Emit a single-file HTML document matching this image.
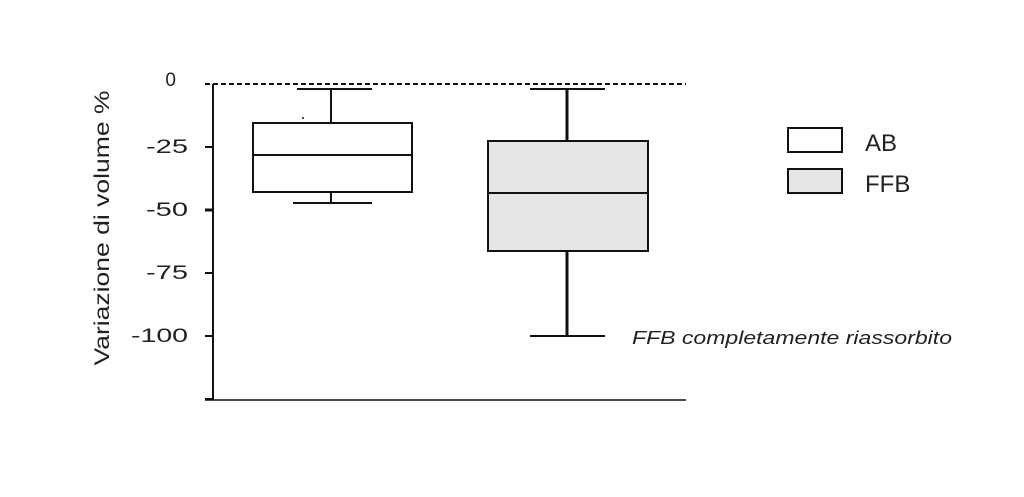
<!DOCTYPE html>
<html><head><style>body{margin:0;background:#fff}</style></head><body>
<svg width="1024" height="492" viewBox="0 0 1024 492" xmlns="http://www.w3.org/2000/svg" font-family="Liberation Sans, sans-serif">
<rect width="1024" height="492" fill="#fff"/>
<g stroke="#111" stroke-width="2" fill="none">
<line x1="205" y1="84" x2="686" y2="84" stroke-dasharray="5,3"/>
<line x1="213" y1="84" x2="213" y2="400"/>
<line x1="205" y1="400" x2="686" y2="400" stroke-width="1.5"/>
<line x1="205" y1="147" x2="213" y2="147"/>
<line x1="205" y1="210" x2="213" y2="210" stroke-width="3"/>
<line x1="205" y1="273" x2="213" y2="273"/>
<line x1="205" y1="336" x2="213" y2="336"/>
<line x1="205" y1="399" x2="213" y2="399"/>
<line x1="331" y1="89" x2="331" y2="123"/>
<line x1="297" y1="89" x2="372" y2="89"/>
<line x1="331" y1="192" x2="331" y2="203"/>
<line x1="293" y1="203" x2="372" y2="203"/>
<rect x="253" y="123" width="159" height="69" fill="#fff"/>
<line x1="253" y1="155" x2="412" y2="155"/>
<line x1="567" y1="89" x2="567" y2="141" stroke-width="3"/>
<line x1="530" y1="89" x2="605" y2="89"/>
<line x1="567" y1="251" x2="567" y2="336" stroke-width="3"/>
<line x1="530" y1="336" x2="605" y2="336"/>
<rect x="488" y="141" width="160" height="110" fill="#e6e6e6"/>
<line x1="488" y1="193" x2="648" y2="193"/>
<rect x="788" y="128" width="54" height="24" fill="#fff"/>
<rect x="788" y="169" width="54" height="24" fill="#e6e6e6"/>
</g>
<circle cx="303" cy="118" r="1" fill="#111"/>
<g font-size="19" fill="#222" text-anchor="end">
<text x="176" y="86">0</text>
<text x="188" y="153" textLength="42" lengthAdjust="spacingAndGlyphs">-25</text>
<text x="188" y="216" textLength="42" lengthAdjust="spacingAndGlyphs">-50</text>
<text x="188" y="279" textLength="42" lengthAdjust="spacingAndGlyphs">-75</text>
<text x="188" y="342" textLength="57" lengthAdjust="spacingAndGlyphs">-100</text>
</g>
<text transform="translate(109,228) rotate(-90)" font-size="21" fill="#222" text-anchor="middle" textLength="275" lengthAdjust="spacingAndGlyphs">Variazione di volume %</text>
<text x="865" y="151" font-size="24" fill="#222">AB</text>
<text x="865" y="192" font-size="24" fill="#222">FFB</text>
<text x="632" y="344" font-size="18" font-style="italic" fill="#222" textLength="320" lengthAdjust="spacingAndGlyphs">FFB completamente riassorbito</text>
</svg>
</body></html>
